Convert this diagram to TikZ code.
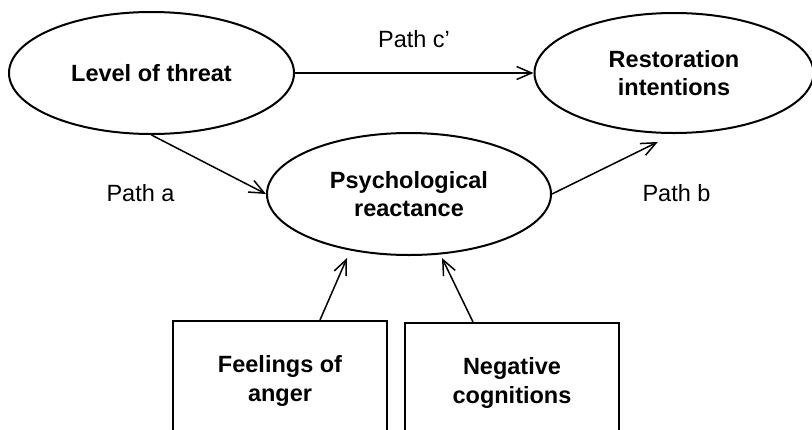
\documentclass[tikz,border=0pt]{standalone}
\usepackage{fontspec}
\setmainfont{Liberation Sans}
\usetikzlibrary{shapes.geometric,arrows.meta,calc}
\tikzset{
  oval/.style={ellipse, draw, line width=2pt, inner sep=0pt, align=center,
    font=\bfseries\fontsize{23.5}{28.3}\selectfont},
  factor/.style={rectangle, draw, line width=2pt, inner sep=0pt, align=center,
    minimum width=214pt, minimum height=120pt,
    font=\bfseries\fontsize{23.5}{28.3}\selectfont},
  pathlabel/.style={inner sep=0pt, font=\fontsize{23.5}{28.3}\selectfont},
  link/.style={line width=1.5pt, -{Straight Barb[length=15pt,width=13pt,line width=1.5pt]}}
}
\begin{document}
\begin{tikzpicture}[x=1pt,y=-1pt]
\useasboundingbox (0,0) rectangle (812,429);
\clip (0,0) rectangle (812,429);
\node[oval, minimum width=285pt, minimum height=122pt] (lev) at (151.5,73) {Level of threat};
\node[oval, minimum width=279pt, minimum height=120pt] (res) at (674,73) {Restoration\\intentions};
\node[oval, minimum width=284pt, minimum height=122pt] (psy) at (409,194) {Psychological\\reactance};
\node[factor] (ang) at (280,381) {Feelings of\\anger};
\node[factor] (neg) at (512,383) {Negative\\cognitions};
\node[pathlabel] (pc) at (414,39) {Path c’};
\node[pathlabel] (pa) at (140.5,193) {Path a};
\node[pathlabel] (pb) at (676.5,193) {Path b};
\coordinate (tipL) at ($(psy.south)+(-62,2)$);
\coordinate (tipR) at ($(psy.south)+(33,2)$);
\draw[link] (lev.east) -- (res.west);
\draw[link] (lev.south) -- (psy.west);
\draw[link, shorten >=18pt] (psy.east) -- (res.south);
\draw[link] ($(ang.north)+(40,0)$) -- (tipL);
\draw[link] ($(neg.north)+(-39,0)$) -- (tipR);
\end{tikzpicture}
\end{document}
